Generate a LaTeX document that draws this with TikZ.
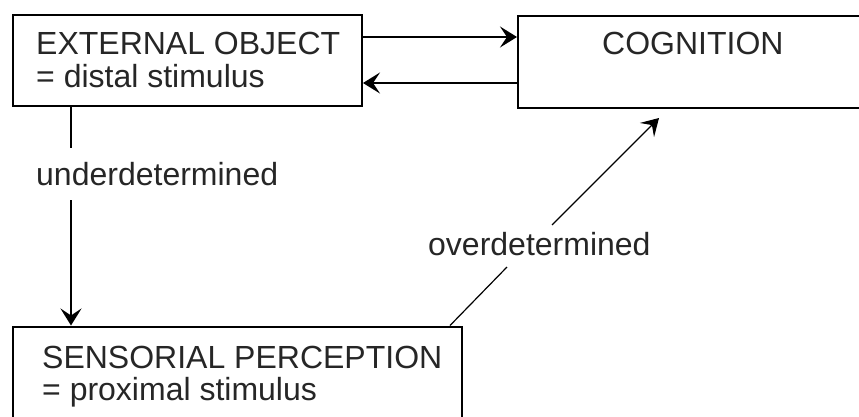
\documentclass[tikz,border=0pt]{standalone}
\usepackage{fontspec}
\setmainfont{Liberation Sans}
\usetikzlibrary{arrows.meta}
\begin{document}
\begin{tikzpicture}[x=1pt,y=-1pt,
  box/.style={draw=black, line width=2pt, rectangle, inner sep=0pt},
  lbl/.style={anchor=base west, inner sep=0pt, text=black!85, font=\fontsize{32}{34}\selectfont},
  arr/.style={line width=2pt, -{Stealth[length=17pt,width=21pt,inset=7pt]}},
  plain/.style={line width=2pt},
  thin/.style={line width=1.2pt, -{Stealth[length=17pt,width=20pt,inset=7pt]}}]
\useasboundingbox (0,0) rectangle (859,416);
\clip (0,0) rectangle (859,416);
% boxes
\node[box, minimum width=349pt, minimum height=91pt] (eo) at (187.5,60) {};
\node[box, minimum width=382pt, minimum height=92pt] (cog) at (709,62) {};
\node[box, minimum width=449pt, minimum height=133pt] (sp) at (237.5,393) {};
% texts
\node[lbl] (eoA) at (36,54) {EXTERNAL OBJECT};
\node[lbl] (eoB) at (36,87) {= distal stimulus};
\node[lbl] (cogA) at (602,54) {COGNITION};
\node[lbl] (spA) at (42,368) {SENSORIAL PERCEPTION};
\node[lbl] (spB) at (42,400) {= proximal stimulus};
\node[lbl] (ud) at (36,185) {underdetermined};
\node[lbl] (od) at (428,255) {overdetermined};
% helper coordinates
\coordinate (a1) at (0,37);
\coordinate (a2) at (0,83);
\coordinate (v1) at (71,148);
\coordinate (v2) at (71,200);
\coordinate (d0) at (450,0);
\coordinate (d1) at (507,267);
\coordinate (d2) at (552,225);
\coordinate (d3) at (659,118);
% connectors
\draw[arr] (eo.east |- a1) -- (cog.west |- a1);
\draw[arr] (cog.west |- a2) -- (eo.east |- a2);
\draw[plain] (v1 |- eo.south) -- (v1);
\draw[arr] (v2) -- (v2 |- sp.north);
\draw[line width=1.2pt] (d0 |- sp.north) -- (d1);
\draw[thin] (d2) -- (d3);
\end{tikzpicture}
\end{document}
